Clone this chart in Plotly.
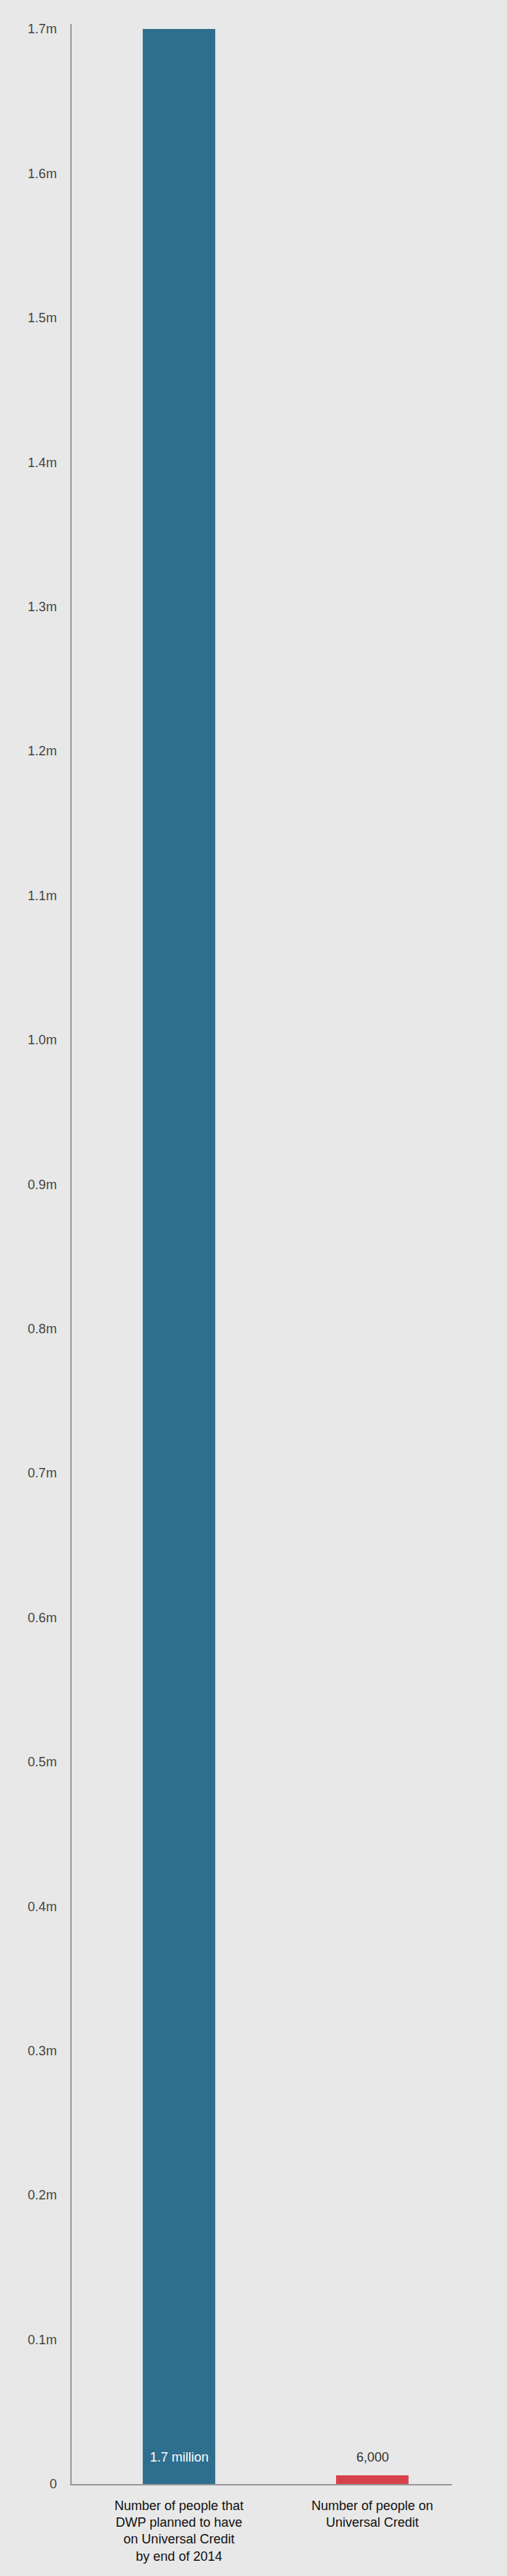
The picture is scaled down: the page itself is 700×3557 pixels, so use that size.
import plotly.graph_objects as go

# Dados
categorias = [
    "Number of people that<br>DWP planned to have<br>on Universal Credit<br>by end of 2014",
    "Number of people on<br>Universal Credit",
]
valores = [1700000, 6000]
rotulos_barras = ["1.7 million", "6,000"]
cores_barras = ["#2f6f8e", "#d7424a"]
cores_rotulos = ["#ffffff", "#333333"]

tick_vals = [i * 100000 for i in range(18)]
tick_text = ["0"] + ["%.1fm" % (v / 1e6) for v in tick_vals[1:]]

fonte = "Helvetica Neue, Helvetica, Liberation Sans, Arial, sans-serif"

fig = go.Figure(go.Bar(
    x=[0, 1],
    y=valores,
    width=0.375,
    marker=dict(color=cores_barras, line=dict(width=0)),
    hoverinfo="skip",
))

# Rotulos por cima da base das barras
for i, (txt, cor) in enumerate(zip(rotulos_barras, cores_rotulos)):
    fig.add_annotation(
        x=i, y=0, text=txt, showarrow=False,
        yanchor="middle", yshift=37,
        font=dict(family=fonte, size=18, color=cor),
    )

fig.update_layout(
    width=700, height=3557,
    margin=dict(l=99, r=76, t=33, b=127),
    paper_bgcolor="#e8e8e8",
    plot_bgcolor="#e8e8e8",
    showlegend=False,
    font=dict(family=fonte, size=18, color="#444444"),
    xaxis=dict(
        range=[-0.555, 1.412],
        tickvals=[0, 1],
        ticktext=categorias,
        showgrid=False, zeroline=False,
        showline=True, linecolor="#999999", linewidth=2,
        ticks="", ticklabelstandoff=12,
        tickfont=dict(family=fonte, size=18, color="#111111"),
    ),
    yaxis=dict(
        range=[0, 1703500],
        tickvals=tick_vals,
        ticktext=tick_text,
        showgrid=False, zeroline=False,
        showline=True, linecolor="#999999", linewidth=2,
        ticks="", ticklabelstandoff=15,
        tickfont=dict(family=fonte, size=18, color="#444444"),
    ),
)

# Tirar a margem da pagina para o grafico ocupar a janela toda
fig.write_html(
    "out.html",
    config={"displayModeBar": False},
    post_script="document.body.style.margin='0';document.body.style.background='#e8e8e8';",
)
